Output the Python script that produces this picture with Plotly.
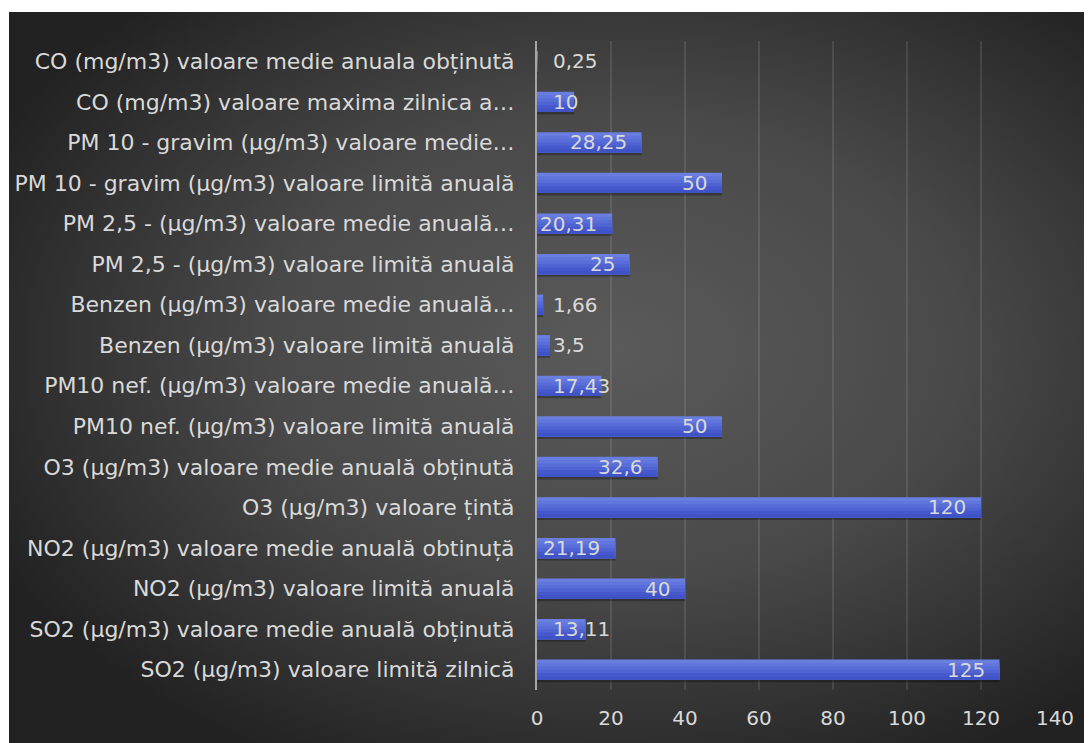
import base64
import plotly.graph_objects as go

categories = [
    "CO (mg/m3) valoare medie anuala obținută",
    "CO (mg/m3) valoare maxima zilnica a…",
    "PM 10 - gravim (µg/m3) valoare medie…",
    "PM 10 - gravim (µg/m3) valoare limită anuală",
    "PM 2,5 - (µg/m3) valoare medie anuală…",
    "PM 2,5 - (µg/m3) valoare limită anuală",
    "Benzen (µg/m3) valoare medie anuală…",
    "Benzen (µg/m3) valoare limită anuală",
    "PM10 nef. (µg/m3) valoare medie anuală…",
    "PM10 nef. (µg/m3) valoare limită anuală",
    "O3 (µg/m3) valoare medie anuală obținută",
    "O3 (µg/m3) valoare țintă",
    "NO2 (µg/m3) valoare medie anuală obtinuță",
    "NO2 (µg/m3) valoare limită anuală",
    "SO2 (µg/m3) valoare medie anuală obținută",
    "SO2 (µg/m3) valoare limită zilnică",
]
values = [0.25, 10, 28.25, 50, 20.31, 25, 1.66, 3.5, 17.43, 50, 32.6, 120, 21.19, 40, 13.11, 125]
value_labels = ["0,25", "10", "28,25", "50", "20,31", "25", "1,66", "3,5", "17,43", "50",
                "32,6", "120", "21,19", "40", "13,11", "125"]
x_ticks = [0, 20, 40, 60, 80, 100, 120, 140]

# bar gradient, top to bottom
bar_shades = ["#6a7ee0", "#6176dd", "#586dd8", "#4f64d2", "#4659cc", "#3f52c6"]

FONT = "DejaVu Sans"
TXT = "#d9d9d9"
PAGE_OFF = 8
W, H = 1092 - PAGE_OFF, 743 - PAGE_OFF
ML, MR, MT, MB = 529, 37, 33, 53

svg = '''<svg xmlns="http://www.w3.org/2000/svg" width="1083" height="731" viewBox="0 0 1083 731" preserveAspectRatio="none">
<defs><radialGradient id="g" cx="0.56" cy="0.46" r="0.64" gradientUnits="objectBoundingBox">
<stop offset="0" stop-color="#5a5a5a"/><stop offset="0.5" stop-color="#494949"/><stop offset="1" stop-color="#222222"/>
</radialGradient></defs><rect width="1083" height="731" fill="url(#g)"/></svg>'''
src = "data:image/svg+xml;base64," + base64.b64encode(svg.encode()).decode()

pw = W - ML - MR
ph = H - MT - MB
x0p = (1 - ML) / pw
y1p = 1 + (MT - 4) / ph
sx = (W - 1) / pw
sy = (H - 4) / ph

fig = go.Figure()
# soft shadow under the bars
fig.add_trace(go.Bar(
    y=categories, x=values, orientation="h", width=0.5, offset=-0.19,
    marker=dict(color="rgba(0,0,0,0.28)", line=dict(width=0)), hoverinfo="skip",
))
n = len(bar_shades)
band = 0.5 / n
for i, col in enumerate(bar_shades):
    fig.add_trace(go.Bar(
        y=categories, x=values, orientation="h", width=0.5 - i * band, offset=-0.25 + i * band,
        marker=dict(color=col, line=dict(width=0)),
        hoverinfo="x+y" if i == n - 1 else "skip",
    ))

annotations = []
for cat, v, lab in zip(categories, values, value_labels):
    if v >= 20:
        annotations.append(dict(x=v, y=cat, xref="x", yref="y", text=lab, showarrow=False,
                                xanchor="right", xshift=-13,
                                font=dict(family=FONT, size=20, color=TXT)))
    else:
        annotations.append(dict(x=0, y=cat, xref="x", yref="y", text=lab, showarrow=False,
                                xanchor="left", xshift=14,
                                font=dict(family=FONT, size=20, color=TXT)))

fig.update_layout(
    width=W, height=H,
    margin=dict(l=ML, r=MR, t=MT, b=MB, autoexpand=False),
    paper_bgcolor="white", plot_bgcolor="rgba(0,0,0,0)",
    font=dict(family=FONT, color=TXT, size=20),
    barmode="overlay", showlegend=False,
    images=[dict(source=src, xref="paper", yref="paper", x=x0p, y=y1p,
                 sizex=sx, sizey=sy, sizing="stretch", xanchor="left", yanchor="top",
                 layer="below")],
    annotations=annotations,
)
fig.update_xaxes(range=[0, 140], tickvals=x_ticks, showgrid=True, automargin=False,
                 gridcolor="rgba(255,255,255,0.10)", gridwidth=2, zeroline=False,
                 tickfont=dict(family=FONT, size=20, color=TXT), ticks="", ticklabelstandoff=14)
fig.update_yaxes(autorange="reversed", showline=True, linecolor="#a6a6a6", linewidth=2,
                 automargin=False,
                 ticks="", ticklabelstandoff=16, tickfont=dict(family=FONT, size=22, color=TXT))
fig.write_html("out.html")
